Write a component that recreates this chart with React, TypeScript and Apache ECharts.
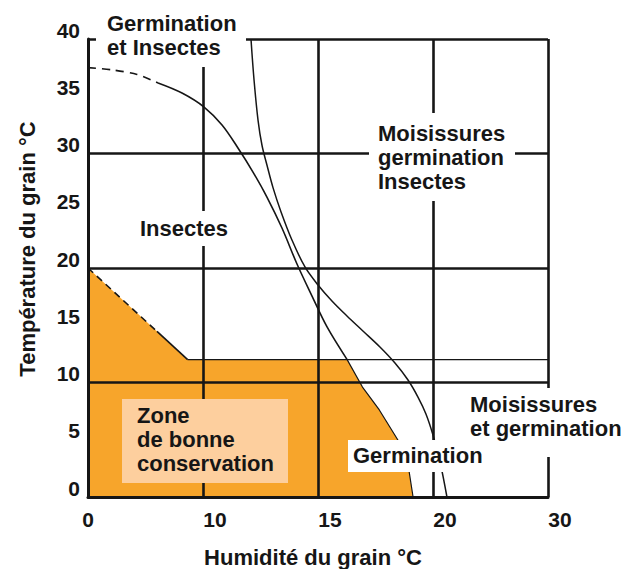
import React, { useEffect, useRef } from "react";
import * as echarts from "echarts";

// X axis: gridlines are equally spaced, labelled 0, 10, 15, 20, 30
const xTickStep = 7.5;
const xTickLabels = ["0", "10", "15", "20", "30"];
const yTickStep = 5;

// Zone de bonne conservation (orange area) boundary
const zoneBoundary: number[][] = [
  [0, 20], [6.5, 12], [16.9, 12], [17.9, 9.6], [19.0, 7.6], [20.2, 5.0], [20.9, 2.6], [21.2, 0],
];
const zoneDashed: number[][] = [[0, 20], [4.5, 14.46]];
const zoneSlopeSolid: number[][] = [[4.5, 14.46], [6.5, 12]];
const zoneEdge: number[][] = [[16.9, 12], [17.9, 9.6], [19.0, 7.6], [20.2, 5.0], [20.9, 2.6], [21.2, 0]];
const line12: number[][] = [[6.5, 12], [30, 12]];

// Insect limit curve
const insectDashed: number[][] = [[0, 37.5], [1.6, 37.3], [3.2, 36.9], [4.57, 36.16]];
const insectSolid: number[][] = [
  [4.57, 36.16], [6.13, 35.28], [7.57, 34.06], [8.74, 32.49], [9.78, 30.48], [10.76, 28.38],
  [11.67, 26.2], [12.65, 23.49], [13.63, 20.35], [14.61, 17.55], [15.59, 14.85], [16.9, 12.0],
];

// Germination limit curve
const germCurve: number[][] = [
  [10.63, 40], [10.83, 36.4], [11.09, 32.9], [11.35, 30.7], [11.67, 29.0], [12.07, 27.0],
  [12.59, 24.9], [13.3, 22.45], [14.15, 20.09], [15.0, 18.52], [15.91, 17.12], [16.89, 15.81],
  [17.93, 14.5], [19.04, 13.1], [20.02, 11.7], [20.87, 10.22], [21.52, 8.73], [22.04, 7.25],
  [22.5, 5.41], [22.96, 3.06], [23.41, 0],
];

const ORANGE = "#F7A52B";
const PEACH = "#FDCF9E";
const INK = "#161616";
const FONT = '"Liberation Sans", Arial, sans-serif';
const LBL = `bold 22px ${FONT}`;

export default function App() {
  const ref = useRef<HTMLDivElement>(null);
  useEffect(() => {
    if (!ref.current) return;
    const chart = echarts.init(ref.current, undefined, { renderer: "svg" });
    const lbl = { fontSize: 21, fontWeight: "bold", fontFamily: FONT, color: INK };
    const lineSeries = (data: number[][], width: number, type: any = "solid", smooth: any = false, z = 5) => ({
      type: "line",
      data,
      smooth,
      showSymbol: false,
      symbol: "none",
      silent: true,
      z,
      lineStyle: { color: INK, width, type },
    });
    const box = (x: number, y: number, w: number, h: number, fill = "#fff") => ({
      type: "rect",
      z: 50,
      silent: true,
      shape: { x, y, width: w, height: h },
      style: { fill },
    });
    const txt = (x: number, y: number, text: string, lh: number) => ({
      type: "text",
      z: 60,
      x,
      y,
      silent: true,
      style: { text, font: LBL, fill: INK, align: "left", textAlign: "left", verticalAlign: "top", textVerticalAlign: "top", lineHeight: lh },
    });
    chart.setOption({
      animation: false,
      backgroundColor: "#fff",
      grid: { left: 88, top: 39, width: 460, height: 458 },
      xAxis: {
        type: "value",
        min: 0,
        max: 30,
        interval: xTickStep,
        z: 3,
        axisLine: { show: true, lineStyle: { color: INK, width: 3 } },
        axisTick: { show: false },
        splitLine: { show: true, lineStyle: { color: INK, width: 2.6 } },
        axisLabel: {
          margin: 12,
          showMaxLabel: true,
          showMinLabel: true,
          formatter: (v: number) => {
            const i = Math.round(v / xTickStep);
            return i === 0 ? `{z|${xTickLabels[i]}}` : `{o|${xTickLabels[i]}}`;
          },
          rich: { z: { ...lbl }, o: { ...lbl, padding: [0, 0, 0, 24] } },
        },
      },
      yAxis: {
        type: "value",
        min: 0,
        max: 40,
        interval: yTickStep,
        z: 3,
        axisLine: { show: true, lineStyle: { color: INK, width: 3 } },
        axisTick: { show: false },
        splitLine: { show: true, lineStyle: { color: [INK, "rgba(0,0,0,0)"], width: 2.6 } },
        axisLabel: { ...lbl, margin: 8, verticalAlign: "bottom", lineHeight: 18 },
      },
      series: [
        {
          type: "line",
          data: zoneBoundary,
          showSymbol: false,
          symbol: "none",
          silent: true,
          z: 1,
          lineStyle: { width: 0 },
          areaStyle: { color: ORANGE, opacity: 1 },
        },
        lineSeries(zoneDashed, 1.6, [7, 5]),
        lineSeries(zoneSlopeSolid, 1.6),
        lineSeries(line12, 1.3),
        lineSeries(zoneEdge, 1.2),
        lineSeries(insectDashed, 1.6, [8, 6], 0.3),
        lineSeries(insectSolid, 1.6, "solid", 0.35),
        lineSeries(germCurve, 1.5, "solid", 0.35),
      ],
      graphic: [
        box(96, 0, 150, 67),
        txt(107, 11.5, "Germination\net Insectes", 24),
        box(133, 211, 106, 35),
        txt(140, 216, "Insectes", 24),
        box(369, 113, 146, 88),
        txt(378, 121, "Moisissures\ngermination\nInsectes", 24),
        box(122, 399, 166, 84, PEACH),
        txt(137, 403, "Zone\nde bonne\nconservation", 24),
        box(348, 440, 137, 32),
        txt(353, 443.5, "Germination", 24),
        box(462, 388, 175, 69),
        txt(470, 392.5, "Moisissures\net germination", 24),
        {
          type: "text",
          z: 60,
          x: 313,
          y: 557,
          silent: true,
          style: { text: "Humidité du grain °C", font: LBL, fill: INK, align: "center", textAlign: "center", verticalAlign: "middle", textVerticalAlign: "middle" },
        },
        {
          type: "text",
          z: 60,
          x: 27,
          y: 249,
          rotation: Math.PI / 2,
          silent: true,
          style: { text: "Température du grain °C", font: LBL, fill: INK, align: "center", textAlign: "center", verticalAlign: "middle", textVerticalAlign: "middle" },
        },
      ],
    });
    return () => chart.dispose();
  }, []);
  return (
    <div
      ref={ref}
      style={{ position: "fixed", left: 0, top: 0, width: 642, height: 569, background: "#fff" }}
    />
  );
}
